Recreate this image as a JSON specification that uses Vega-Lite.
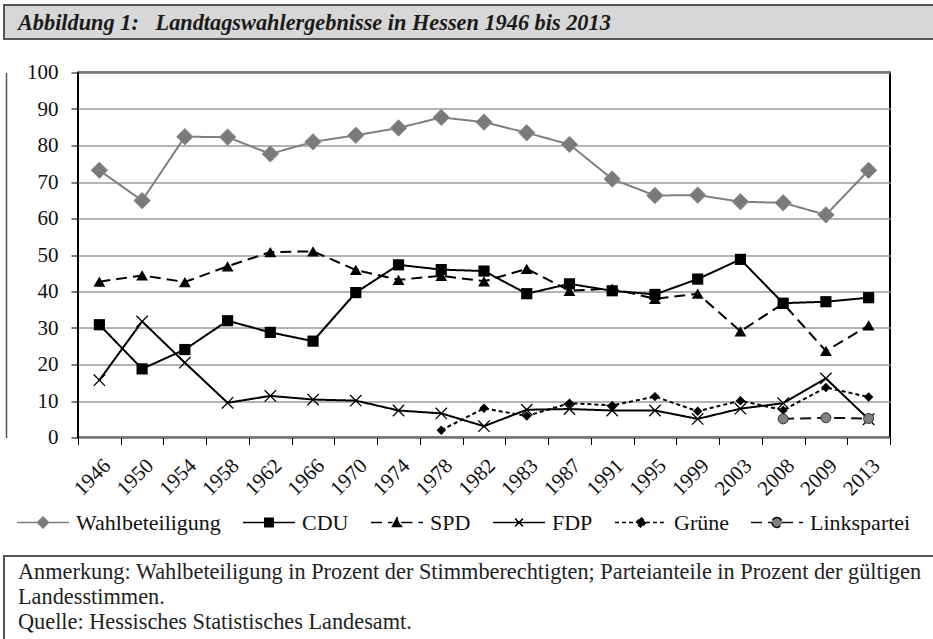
{
  "$schema": "https://vega.github.io/schema/vega-lite/v6.json",
  "padding": {"left": 3, "top": 4, "right": 0, "bottom": 0},
  "spacing": 20.5,
  "resolve": {"scale": {"color": "independent", "strokeDash": "independent"}},
  "config": {
    "font": "Liberation Serif",
    "view": {"stroke": null},
    "axis": {"labelFont": "Liberation Serif", "labelFontSize": 21, "labelColor": "#111", "tickColor": "#000", "domain": false, "title": null}
  },
  "vconcat": [
    {
      "width": 931,
      "height": 34,
      "view": {"fill": "#d7d7d7", "stroke": "#555", "strokeWidth": 2},
      "data": {"values": [{"t": "Abbildung 1:\u00a0\u00a0 Landtagswahlergebnisse in Hessen 1946 bis 2013"}]},
      "mark": {"type": "text", "align": "left", "baseline": "alphabetic", "font": "Liberation Serif", "fontSize": 22.3, "fontStyle": "italic", "fontWeight": "bold", "color": "#1a1a1a"},
      "encoding": {"text": {"field": "t"}, "x": {"value": 14}, "y": {"value": 25}}
    },
    {
      "spacing": 0,
      "resolve": {"scale": {"color": "independent", "strokeDash": "independent"}},
      "hconcat": [
        {
          "width": 1,
          "height": 365,
          "data": {"values": []},
          "mark": "point"
        },
        {
          "width": 812,
          "height": 365,
          "view": {"stroke": "#000", "strokeWidth": 2},
          "data": {"values": [
            {"year": "1946", "series": "Wahlbeteiligung", "value": 73.2},
            {"year": "1950", "series": "Wahlbeteiligung", "value": 64.9},
            {"year": "1954", "series": "Wahlbeteiligung", "value": 82.4},
            {"year": "1958", "series": "Wahlbeteiligung", "value": 82.3},
            {"year": "1962", "series": "Wahlbeteiligung", "value": 77.7},
            {"year": "1966", "series": "Wahlbeteiligung", "value": 81.0},
            {"year": "1970", "series": "Wahlbeteiligung", "value": 82.8},
            {"year": "1974", "series": "Wahlbeteiligung", "value": 84.8},
            {"year": "1978", "series": "Wahlbeteiligung", "value": 87.7},
            {"year": "1982", "series": "Wahlbeteiligung", "value": 86.4},
            {"year": "1983", "series": "Wahlbeteiligung", "value": 83.5},
            {"year": "1987", "series": "Wahlbeteiligung", "value": 80.3},
            {"year": "1991", "series": "Wahlbeteiligung", "value": 70.8},
            {"year": "1995", "series": "Wahlbeteiligung", "value": 66.3},
            {"year": "1999", "series": "Wahlbeteiligung", "value": 66.4},
            {"year": "2003", "series": "Wahlbeteiligung", "value": 64.6},
            {"year": "2008", "series": "Wahlbeteiligung", "value": 64.3},
            {"year": "2009", "series": "Wahlbeteiligung", "value": 61.0},
            {"year": "2013", "series": "Wahlbeteiligung", "value": 73.2},
            {"year": "1946", "series": "CDU", "value": 30.9},
            {"year": "1950", "series": "CDU", "value": 18.8},
            {"year": "1954", "series": "CDU", "value": 24.1},
            {"year": "1958", "series": "CDU", "value": 32.0},
            {"year": "1962", "series": "CDU", "value": 28.8},
            {"year": "1966", "series": "CDU", "value": 26.4},
            {"year": "1970", "series": "CDU", "value": 39.7},
            {"year": "1974", "series": "CDU", "value": 47.3},
            {"year": "1978", "series": "CDU", "value": 46.0},
            {"year": "1982", "series": "CDU", "value": 45.6},
            {"year": "1983", "series": "CDU", "value": 39.4},
            {"year": "1987", "series": "CDU", "value": 42.1},
            {"year": "1991", "series": "CDU", "value": 40.2},
            {"year": "1995", "series": "CDU", "value": 39.2},
            {"year": "1999", "series": "CDU", "value": 43.4},
            {"year": "2003", "series": "CDU", "value": 48.8},
            {"year": "2008", "series": "CDU", "value": 36.8},
            {"year": "2009", "series": "CDU", "value": 37.2},
            {"year": "2013", "series": "CDU", "value": 38.3},
            {"year": "1946", "series": "SPD", "value": 42.7},
            {"year": "1950", "series": "SPD", "value": 44.4},
            {"year": "1954", "series": "SPD", "value": 42.6},
            {"year": "1958", "series": "SPD", "value": 46.9},
            {"year": "1962", "series": "SPD", "value": 50.8},
            {"year": "1966", "series": "SPD", "value": 51.0},
            {"year": "1970", "series": "SPD", "value": 45.9},
            {"year": "1974", "series": "SPD", "value": 43.2},
            {"year": "1978", "series": "SPD", "value": 44.3},
            {"year": "1982", "series": "SPD", "value": 42.8},
            {"year": "1983", "series": "SPD", "value": 46.2},
            {"year": "1987", "series": "SPD", "value": 40.2},
            {"year": "1991", "series": "SPD", "value": 40.8},
            {"year": "1995", "series": "SPD", "value": 38.0},
            {"year": "1999", "series": "SPD", "value": 39.4},
            {"year": "2003", "series": "SPD", "value": 29.1},
            {"year": "2008", "series": "SPD", "value": 36.7},
            {"year": "2009", "series": "SPD", "value": 23.7},
            {"year": "2013", "series": "SPD", "value": 30.7},
            {"year": "1946", "series": "FDP", "value": 15.7},
            {"year": "1950", "series": "FDP", "value": 31.8},
            {"year": "1954", "series": "FDP", "value": 20.5},
            {"year": "1958", "series": "FDP", "value": 9.5},
            {"year": "1962", "series": "FDP", "value": 11.4},
            {"year": "1966", "series": "FDP", "value": 10.4},
            {"year": "1970", "series": "FDP", "value": 10.1},
            {"year": "1974", "series": "FDP", "value": 7.4},
            {"year": "1978", "series": "FDP", "value": 6.6},
            {"year": "1982", "series": "FDP", "value": 3.1},
            {"year": "1983", "series": "FDP", "value": 7.6},
            {"year": "1987", "series": "FDP", "value": 7.8},
            {"year": "1991", "series": "FDP", "value": 7.4},
            {"year": "1995", "series": "FDP", "value": 7.4},
            {"year": "1999", "series": "FDP", "value": 5.1},
            {"year": "2003", "series": "FDP", "value": 7.9},
            {"year": "2008", "series": "FDP", "value": 9.4},
            {"year": "2009", "series": "FDP", "value": 16.2},
            {"year": "2013", "series": "FDP", "value": 5.0},
            {"year": "1978", "series": "Grüne", "value": 2.0},
            {"year": "1982", "series": "Grüne", "value": 8.0},
            {"year": "1983", "series": "Grüne", "value": 5.9},
            {"year": "1987", "series": "Grüne", "value": 9.4},
            {"year": "1991", "series": "Grüne", "value": 8.8},
            {"year": "1995", "series": "Grüne", "value": 11.2},
            {"year": "1999", "series": "Grüne", "value": 7.2},
            {"year": "2003", "series": "Grüne", "value": 10.1},
            {"year": "2008", "series": "Grüne", "value": 7.5},
            {"year": "2009", "series": "Grüne", "value": 13.7},
            {"year": "2013", "series": "Grüne", "value": 11.1},
            {"year": "2008", "series": "Linkspartei", "value": 5.1},
            {"year": "2009", "series": "Linkspartei", "value": 5.4},
            {"year": "2013", "series": "Linkspartei", "value": 5.2}
          ]},
          "encoding": {
            "x": {
              "field": "year", "type": "ordinal",
              "scale": {"type": "band", "paddingInner": 0, "paddingOuter": 0},
              "axis": {"labelAngle": -45, "tickBand": "extent", "tickSize": 7, "labelPadding": 10, "grid": false, "domain": false}
            }
          },
          "resolve": {"axis": {"y": "independent"}},
          "layer": [
            {
              "mark": {"type": "line", "strokeWidth": 2},
              "encoding": {
                "y": {
                  "field": "value", "type": "quantitative",
                  "scale": {"domain": [0, 100]},
                  "axis": {"values": [0, 10, 20, 30, 40, 50, 60, 70, 80, 90, 100], "grid": true, "gridColor": "#9a9a9a", "gridWidth": 1.3, "tickSize": 7, "labelPadding": 13, "domain": false}
                },
                "color": {
                  "field": "series", "type": "nominal",
                  "scale": {"domain": ["Wahlbeteiligung", "CDU", "SPD", "FDP", "Grüne", "Linkspartei"], "range": ["#7f7f7f", "#000000", "#000000", "#000000", "#000000", "#111111"]},
                  "legend": {
                    "orient": "none", "legendX": -62, "legendY": 423, "direction": "horizontal", "title": null,
                    "labelFont": "Liberation Serif", "labelFontSize": 22, "labelColor": "#111",
                    "symbolSize": 2704, "symbolOffset": 0, "labelOffset": 6, "columnPadding": 18, "padding": 0,
                    "symbolStrokeWidth": 1.6,
                    "encode": {
                      "symbols": {
                        "update": {
                          "shape": {"signal": "datum.value === 'Wahlbeteiligung' ? 'M-1,0H-0.21M0.21,0H1M-0.21,0L0,-0.21L0.21,0L0,0.21Z' : datum.value === 'CDU' ? 'M-1,0H-0.16M0.16,0H1M-0.16,-0.16H0.16V0.16H-0.16Z' : datum.value === 'SPD' ? 'M-1,0H-0.17M0.17,0H1M-0.17,0.15L0,-0.17L0.17,0.15Z' : datum.value === 'FDP' ? 'M-1,0H1M-0.15,-0.15L0.15,0.15M-0.15,0.15L0.15,-0.15' : datum.value === 'Grüne' ? 'M-1,0H-0.19M0.19,0H1M-0.19,0L0,-0.19L0.19,0L0,0.19Z' : 'M-1,0H-0.19M0.19,0H1M-0.19,0A0.19,0.19,0,1,0,0.19,0A0.19,0.19,0,1,0,-0.19,0Z'"},
                          "fill": {"signal": "datum.value === 'FDP' ? 'transparent' : datum.value === 'Wahlbeteiligung' ? '#7a7a7a' : datum.value === 'Linkspartei' ? '#808080' : '#000000'"},
                          "stroke": {"signal": "datum.value === 'Wahlbeteiligung' ? '#808080' : '#000000'"},
                          "strokeDash": {"signal": "datum.value === 'SPD' || datum.value === 'Linkspartei' ? [11, 5] : datum.value === 'Grüne' ? [4, 3] : [1, 0]"},
                          "strokeWidth": {"value": 1.6},
                          "opacity": {"value": 1}
                        }
                      }
                    }
                  }
                },
                "strokeDash": {
                  "field": "series", "type": "nominal",
                  "scale": {"domain": ["Wahlbeteiligung", "CDU", "SPD", "FDP", "Grüne", "Linkspartei"], "range": [[1, 0], [1, 0], [11, 6], [1, 0], [4, 3], [11, 6]]},
                  "legend": null
                }
              }
            },
            {
              "transform": [{"filter": "datum.series === 'Wahlbeteiligung'"}],
              "mark": {"type": "point", "shape": "diamond", "size": 270, "filled": true, "fill": "#7a7a7a", "stroke": "#909090", "strokeWidth": 1, "opacity": 1},
              "encoding": {
                "y": {"field": "value", "type": "quantitative", "axis": {"orient": "left", "offset": 72, "labels": false, "ticks": false, "grid": false, "domain": true, "domainColor": "#555", "domainWidth": 1.5}}
              }
            },
            {
              "transform": [{"filter": "datum.series === 'CDU'"}],
              "mark": {"type": "point", "shape": "square", "size": 125, "filled": true, "fill": "#000", "opacity": 1},
              "encoding": {"y": {"field": "value", "type": "quantitative", "axis": null}}
            },
            {
              "transform": [{"filter": "datum.series === 'SPD'"}],
              "mark": {"type": "point", "shape": "triangle-up", "size": 140, "filled": true, "fill": "#000", "opacity": 1},
              "encoding": {"y": {"field": "value", "type": "quantitative", "axis": null}}
            },
            {
              "transform": [{"filter": "datum.series === 'FDP'"}],
              "mark": {"type": "point", "shape": "M-1,-1L1,1M-1,1L1,-1", "size": 130, "filled": false, "stroke": "#000", "strokeWidth": 1.3, "opacity": 1},
              "encoding": {"y": {"field": "value", "type": "quantitative", "axis": null}}
            },
            {
              "transform": [{"filter": "datum.series === 'Grüne'"}],
              "mark": {"type": "point", "shape": "diamond", "size": 90, "filled": true, "fill": "#000", "opacity": 1},
              "encoding": {"y": {"field": "value", "type": "quantitative", "axis": null}}
            },
            {
              "transform": [{"filter": "datum.series === 'Linkspartei'"}],
              "mark": {"type": "point", "shape": "circle", "size": 100, "filled": true, "fill": "#808080", "stroke": "#333", "strokeWidth": 1, "opacity": 1},
              "encoding": {"y": {"field": "value", "type": "quantitative", "axis": null}}
            }
          ]
        }
      ]
    },
    {
      "width": 931,
      "height": 90,
      "view": {"stroke": "#555", "strokeWidth": 2, "fill": null},
      "data": {"values": [{"t": "Anmerkung: Wahlbeteiligung in Prozent der Stimmberechtigten; Parteianteile in Prozent der gültigen\nLandesstimmen.\nQuelle: Hessisches Statistisches Landesamt."}]},
      "mark": {"type": "text", "align": "left", "baseline": "alphabetic", "lineBreak": "\n", "lineHeight": 25, "font": "Liberation Serif", "fontSize": 22.3, "color": "#222"},
      "encoding": {"text": {"field": "t"}, "x": {"value": 14}, "y": {"value": 23}}
    }
  ]
}
